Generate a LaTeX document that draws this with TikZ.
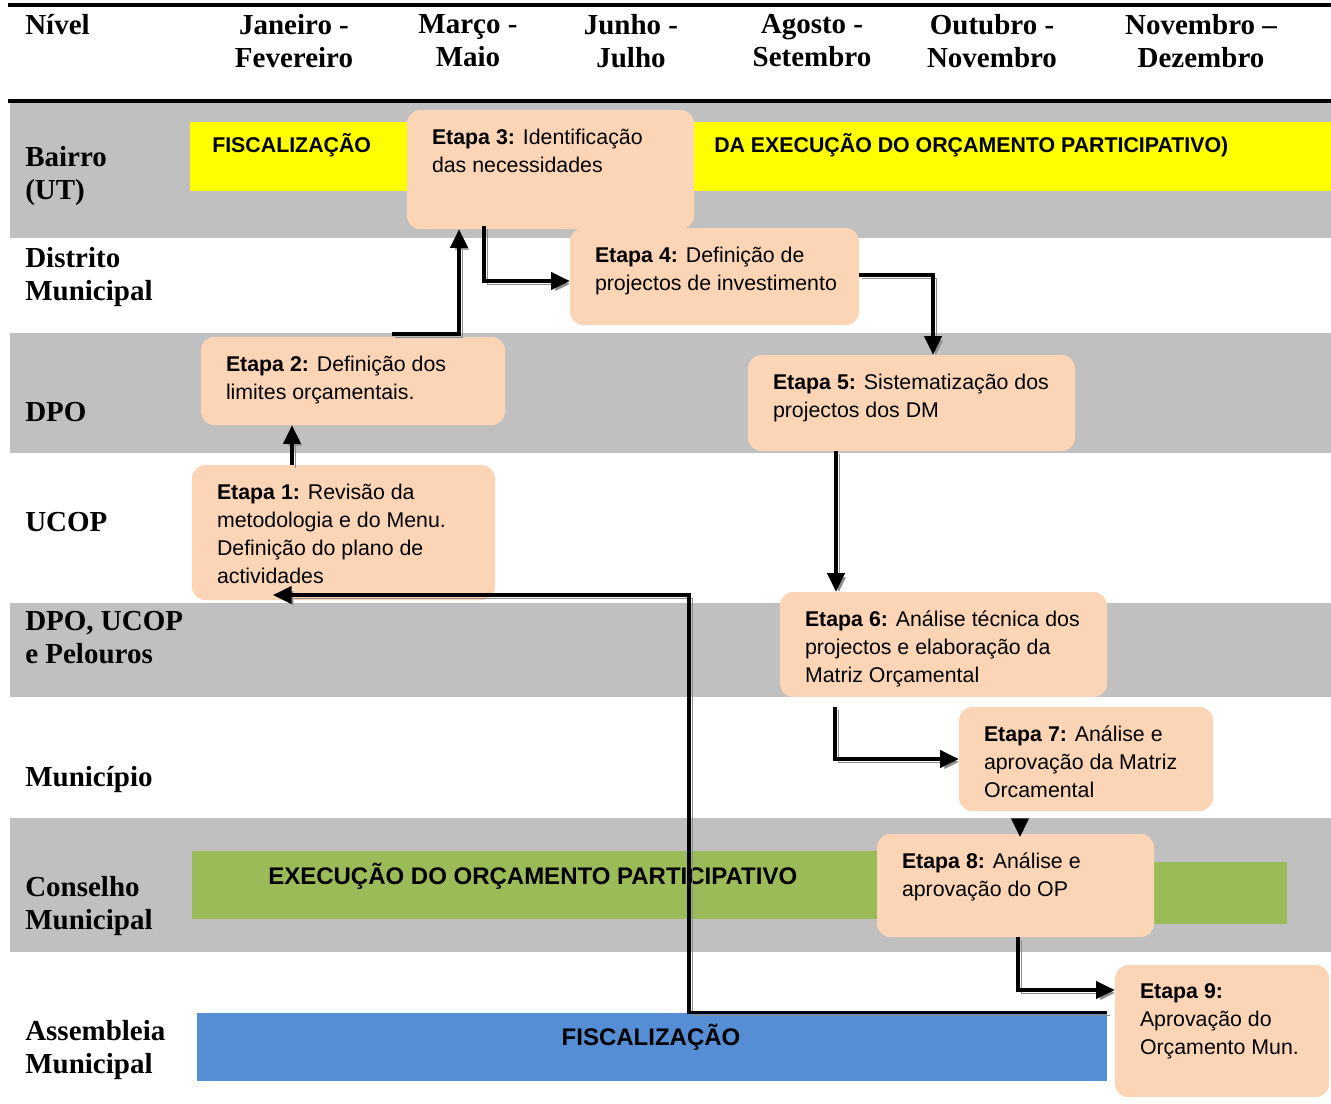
\documentclass[tikz,border=0pt]{standalone}
\usepackage{fontspec}
\setmainfont{Liberation Serif}
\setsansfont{Liberation Sans}
\usetikzlibrary{arrows.meta,fit}
\definecolor{bandgray}{HTML}{C0C0C0}
\definecolor{peach}{HTML}{FBD5B5}
\definecolor{barYellow}{HTML}{FFFF00}
\definecolor{barGreen}{HTML}{9BBB59}
\definecolor{barBlue}{HTML}{558ED5}
\definecolor{shadowgray}{HTML}{8C8C8C}
\begin{document}
\begin{tikzpicture}[x=0.75pt, y=-0.75pt,
	etapa/.style={fill=peach, draw=none, rounded corners=10pt, inner sep=0},
	etxt/.style={anchor=north west, align=left, inner sep=0, font=\sffamily\fontsize{16}{21}\selectfont},
	bar/.style={draw=none, inner sep=0},
	bartxt/.style={anchor=base west, inner sep=0, font=\sffamily\bfseries\fontsize{16}{21}\selectfont},
	head/.style={anchor=north, align=center, inner sep=0, font=\bfseries\fontsize{21.75}{24.75}\selectfont},
	lvl/.style={anchor=north west, align=left, inner sep=0, font=\bfseries\fontsize{21.75}{24.75}\selectfont},
	tip/.style={-{Triangle[length=14pt,width=13pt]}, line width=2.3pt},
	flow/.style={tip, preaction={draw=shadowgray, transform canvas={xshift=2.2pt, yshift=-2.2pt}}}]
				\useasboundingbox (0,0) rectangle (1331,1103);
				\fill[bandgray] (10,103) rectangle (1331,238);
				\fill[bandgray] (10,333) rectangle (1331,453);
				\fill[bandgray] (10,603) rectangle (1331,697);
				\fill[bandgray] (10,818) rectangle (1331,952);
				\draw[line width=3pt] (8,5) -- (1331,5);
				\draw[line width=3pt] (8,101) -- (1331,101);
				\node[lvl, anchor=base west] (nivel) at (25,34) {Nível};
				\node[head] (jan) at (294,14.5) {Janeiro -\\Fevereiro};
				\node[head] (mar) at (468,14.5) {Março -\\Maio};
				\node[head] (jun) at (631,14.5) {Junho -\\Julho};
				\node[head] (ago) at (812,14.5) {Agosto -\\Setembro};
				\node[head] (out) at (992,14.5) {Outubro -\\Novembro};
				\node[head] (nov) at (1201,14.5) {Novembro –\\Dezembro};
				\node[lvl] (bairro) at (25,146) {Bairro\\(UT)};
				\node[lvl] (distrito) at (25,247) {Distrito\\Municipal};
				\node[lvl, anchor=base west] (dpo) at (25,421) {DPO};
				\node[lvl, anchor=base west] (ucop) at (25,531) {UCOP};
				\node[lvl] (pelouros) at (25,611) {DPO, UCOP\\e Pelouros};
				\node[lvl, anchor=base west] (municipio) at (25,786) {Município};
				\node[lvl] (conselho) at (25,876) {Conselho\\Municipal};
				\node[lvl] (assembleia) at (25,1020) {Assembleia\\Municipal};
				\node[bar, fill=barYellow, fit={(190,122) (1331,191)}] (fiscup) {};
				\node[bar, fill=barGreen, fit={(192,851) (879,919)}] (execA) {};
				\node[bar, fill=barGreen, fit={(1152,862) (1287,924)}] (execB) {};
				\node[bar, fill=barBlue, fit={(197,1013) (1107,1081)}] (fisc) {};
				\node[bartxt] (fiscupA) at (212,152) {FISCALIZAÇÃO};
				\node[bartxt] (fiscupB) at (714,152) {DA EXECUÇÃO DO ORÇAMENTO PARTICIPATIVO)};
				\node[bartxt, font=\sffamily\bfseries\fontsize{18}{21}\selectfont] (exectxt) at (268,884) {EXECUÇÃO DO ORÇAMENTO PARTICIPATIVO};
				\node[bartxt, anchor=base, font=\sffamily\bfseries\fontsize{18}{21}\selectfont] (fisctxt) at (651,1045) {FISCALIZAÇÃO};
				\node[etapa, fit={(407,110) (694,229)}] (e3) {};
				\node[etapa, fit={(570,228) (859,325)}] (e4) {};
				\node[etapa, fit={(201,337) (505,425)}] (e2) {};
				\node[etapa, fit={(748,355) (1075,451)}] (e5) {};
				\node[etapa, fit={(192,465) (495,600)}] (e1) {};
				\node[etapa, fit={(780,592) (1107,697)}] (e6) {};
				\node[etapa, fit={(959,707) (1213,811)}] (e7) {};
				\node[etapa, fit={(877,834) (1154,937)}] (e8) {};
				\node[etapa, fit={(1115,965) (1329,1097)}] (e9) {};
				\node[etxt] (e1t) at ([shift={(25,19)}]e1.north west) {\textbf{Etapa 1:} Revisão da\\metodologia e do Menu.\\Definição do plano de\\actividades};
				\node[etxt] (e2t) at ([shift={(25,19)}]e2.north west) {\textbf{Etapa 2:} Definição dos\\limites orçamentais.};
				\node[etxt] (e3t) at ([shift={(25,19)}]e3.north west) {\textbf{Etapa 3:} Identificação\\das necessidades};
				\node[etxt] (e4t) at ([shift={(25,19)}]e4.north west) {\textbf{Etapa 4:} Definição de\\projectos de investimento};
				\node[etxt] (e5t) at ([shift={(25,19)}]e5.north west) {\textbf{Etapa 5:} Sistematização dos\\projectos dos DM};
				\node[etxt] (e6t) at ([shift={(25,19)}]e6.north west) {\textbf{Etapa 6:} Análise técnica dos\\projectos e elaboração da\\Matriz Orçamental};
				\node[etxt] (e7t) at ([shift={(25,19)}]e7.north west) {\textbf{Etapa 7:} Análise e\\aprovação da Matriz\\Orcamental};
				\node[etxt] (e8t) at ([shift={(25,19)}]e8.north west) {\textbf{Etapa 8:} Análise e\\aprovação do OP};
				\node[etxt] (e9t) at ([shift={(25,19)}]e9.north west) {\textbf{Etapa 9:}\\Aprovação do\\Orçamento Mun.};
				\coordinate (back) at (273,595);
				\draw[flow] (292,0 |- e1.north) -- (292,0 |- e2.south);
				\draw[flow] (392,334) -| (459,0 |- e3.south);
				\draw[flow] (484,226) |- (e4.west |- 0,281);
				\draw[flow] (e4.east |- 0,275) -| (933,0 |- e5.north);
				\draw[flow] (836,0 |- e5.south) -- (836,0 |- e6.north);
				\draw[flow] (835,707) |- (e7.west |- 0,759);
				\draw[tip] (1020,819) -- (1020,837);
				\draw[flow] (1018,0 |- e8.south) |- (e9.west |- 0,990);
				\draw[flow] (fisc.north east) -| (689,595) -- (back);
			\end{tikzpicture}
\end{document}
